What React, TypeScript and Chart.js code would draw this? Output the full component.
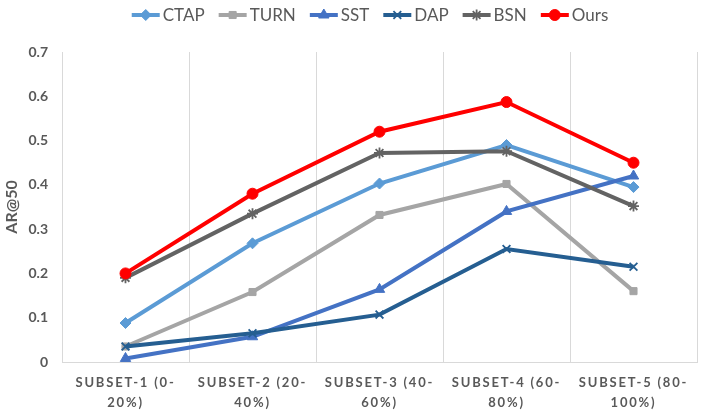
import React, { useEffect, useRef } from 'react';
import { Chart, registerables } from 'chart.js';
import { drawPoint } from 'chart.js/helpers';

Chart.register(...registerables);

const categories: string[][] = [
  ['SUBSET-1 (0-', '20%)'],
  ['SUBSET-2 (20-', '40%)'],
  ['SUBSET-3 (40-', '60%)'],
  ['SUBSET-4 (60-', '80%)'],
  ['SUBSET-5 (80-', '100%)'],
];
const seriesNames = ['CTAP', 'TURN', 'SST', 'DAP', 'BSN', 'Ours'];
const ctapValues = [0.088, 0.268, 0.403, 0.49, 0.395];
const turnValues = [0.035, 0.158, 0.332, 0.402, 0.16];
const sstValues = [0.008, 0.057, 0.164, 0.34, 0.42];
const dapValues = [0.035, 0.065, 0.107, 0.255, 0.215];
const bsnValues = [0.19, 0.335, 0.472, 0.476, 0.352];
const oursValues = [0.2, 0.38, 0.52, 0.587, 0.45];
const yTickValues = [0, 0.1, 0.2, 0.3, 0.4, 0.5, 0.6, 0.7];
const yTitle = 'AR@50';

const seriesValues = [ctapValues, turnValues, sstValues, dapValues, bsnValues, oursValues];
const seriesColors = ['#5B9BD5', '#A5A5A5', '#4472C4', '#255E91', '#636363', '#FF0000'];
const seriesMarkers = ['rectRot', 'rect', 'triangle', 'crossRot', 'star', 'circle'];
const seriesRadius = [5.5, 5, 6, 5.5, 5.5, 5.5];
const seriesMarkerBorder = [1, 1, 1, 1.8, 1.8, 1];

const TEXT = '#595959';
const FONT = 'Lato, "Open Sans", sans-serif';

const legendPlugin = {
  id: 'lineLegend',
  afterDraw(chart: any) {
    const ctx: CanvasRenderingContext2D = chart.ctx;
    ctx.save();
    ctx.font = `17px ${FONT}`;
    ctx.textBaseline = 'middle';
    ctx.textAlign = 'left';
    const lineW = 28;
    const gap = 3;
    const itemGap = 14;
    const ds = chart.data.datasets;
    const widths = ds.map((d: any) => ctx.measureText(d.label).width);
    const total =
      widths.reduce((s: number, w: number) => s + lineW + gap + w, 0) + itemGap * (ds.length - 1);
    let x = 370 - total / 2;
    const y = 15;
    ds.forEach((d: any, i: number) => {
      ctx.strokeStyle = d.borderColor;
      ctx.fillStyle = d.borderColor;
      ctx.lineWidth = 4;
      ctx.beginPath();
      ctx.moveTo(x, y);
      ctx.lineTo(x + lineW, y);
      ctx.stroke();
      ctx.lineWidth = d.pointBorderWidth;
      drawPoint(
        ctx,
        { pointStyle: d.pointStyle, radius: d.pointRadius, borderWidth: d.pointBorderWidth, rotation: 0 } as any,
        x + lineW / 2,
        y
      );
      ctx.fillStyle = TEXT;
      ctx.fillText(d.label, x + lineW + gap, y + 1);
      x += lineW + gap + widths[i] + itemGap;
    });
    ctx.restore();
  },
};

const spacingPlugin = {
  id: 'xLetterSpacing',
  beforeDraw(chart: any) {
    const sx = chart.scales.x;
    if (sx && !sx.__patched) {
      const orig = sx.drawLabels.bind(sx);
      sx.drawLabels = (area: any) => {
        const c: any = chart.ctx;
        c.save();
        c.letterSpacing = '1.8px';
        orig(area);
        c.restore();
      };
      sx.__patched = true;
    }
  },
};

export default function App() {
  const ref = useRef<HTMLCanvasElement | null>(null);

  useEffect(() => {
    document.body.style.margin = '0';
    if (!ref.current) return;
    const chart = new Chart(ref.current, {
      type: 'line',
      data: {
        labels: categories as any,
        datasets: seriesNames.map((name, i) => ({
          label: name,
          data: seriesValues[i],
          borderColor: seriesColors[i],
          backgroundColor: seriesColors[i],
          pointBackgroundColor: seriesColors[i],
          pointBorderColor: seriesColors[i],
          pointStyle: seriesMarkers[i] as any,
          pointRadius: seriesRadius[i],
          pointBorderWidth: seriesMarkerBorder[i],
          borderWidth: 4,
          tension: 0,
          fill: false,
          order: seriesNames.length - 1 - i,
        })),
      },
      options: {
        animation: false,
        responsive: false,
        layout: { padding: { top: 52, right: 8, bottom: 0, left: 0 } },
        plugins: {
          legend: { display: false },
          tooltip: { enabled: false },
        },
        scales: {
          x: {
            offset: true,
            grid: { offset: true, color: '#D9D9D9', lineWidth: 1, drawTicks: false },
            border: { color: '#D9D9D9', width: 1 },
            ticks: {
              color: TEXT,
              font: { family: FONT, size: 13, weight: 'bold', lineHeight: 1.6 },
              padding: 10,
              maxRotation: 0,
              autoSkip: false,
            },
            afterFit: (s: any) => {
              s.height = 57;
            },
          },
          y: {
            min: 0,
            max: 0.7,
            afterBuildTicks: (s: any) => {
              s.ticks = yTickValues.map((v) => ({ value: v }));
            },
            grid: { display: false, drawTicks: false },
            border: { display: false },
            ticks: {
              color: TEXT,
              font: { family: FONT, size: 14, weight: 'bold' },
              padding: 14,
              callback: (v: any) => String(Math.round(Number(v) * 10) / 10),
            },
            title: {
              display: true,
              text: yTitle,
              color: TEXT,
              font: { family: FONT, size: 16, weight: 'bold' },
              padding: { top: 2, bottom: 0 },
            },
            afterFit: (s: any) => {
              s.width = 62;
            },
          },
        },
      },
      plugins: [legendPlugin, spacingPlugin],
    });
    return () => chart.destroy();
  }, []);

  return (
    <div style={{ width: 705, height: 419 }}>
      <canvas ref={ref} width={705} height={419} style={{ display: 'block' }} />
    </div>
  );
}
